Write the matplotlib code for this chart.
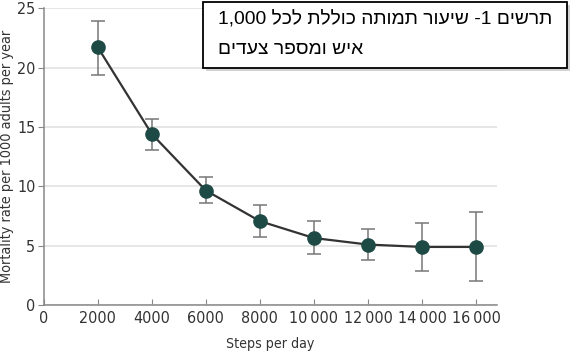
import re
import numpy as np
import matplotlib
matplotlib.use('Agg')
import matplotlib.pyplot as plt
from matplotlib.patches import Rectangle
from matplotlib.ticker import FuncFormatter

steps = [2000, 4000, 6000, 8000, 10000, 12000, 14000, 16000]
rate = [21.7, 14.4, 9.65, 7.07, 5.65, 5.1, 4.9, 4.9]
ci_low = [19.4, 13.1, 8.56, 5.72, 4.3, 3.8, 2.9, 2.0]
ci_high = [23.9, 15.7, 10.8, 8.45, 7.05, 6.45, 6.9, 7.8]

x_ticks = [0, 2000, 4000, 6000, 8000, 10000, 12000, 14000, 16000]
y_ticks = [0, 5, 10, 15, 20, 25]

title_lines = ['תרשים 1- שיעור תמותה כוללת לכל 1,000', 'איש ומספר צעדים']


def visual(s):
    # matplotlib has no bidi support: flip to visual order, keep numbers LTR
    r = s[::-1]
    return re.sub(r'[0-9][0-9,.]*[0-9]|[0-9]', lambda m: m.group(0)[::-1], r)


def fmt(v, pos):
    v = int(v)
    if v >= 10000:
        return '{}\u2009{:03d}'.format(v // 1000, v % 1000)
    return str(v)


plt.rcParams['font.family'] = ['DejaVu Sans']
plt.rcParams['font.stretch'] = 'condensed'

fig = plt.figure(figsize=(5.76, 3.54), dpi=100)
ax = fig.add_axes([0.076, 0.138, 0.787, 0.839])

yerr = [np.array(rate) - np.array(ci_low), np.array(ci_high) - np.array(rate)]
ax.errorbar(steps, rate, yerr=yerr, fmt='none', ecolor='#777777', elinewidth=1.1,
            capsize=5, capthick=1.1, zorder=2)
ax.plot(steps, rate, color='#333333', lw=1.6, zorder=3)
ax.plot(steps, rate, 'o', color='#1e4a45', ms=9.5, zorder=4)

ax.set_xlim(0, 16780)
ax.set_ylim(0, 25)
ax.set_xticks(x_ticks)
ax.set_yticks(y_ticks)
ax.xaxis.set_major_formatter(FuncFormatter(fmt))
ax.grid(axis='y', color='#e2e2e2', lw=1.2)
ax.set_axisbelow(True)
for side in ['top', 'right']:
    ax.spines[side].set_visible(False)
for side in ['left', 'bottom']:
    ax.spines[side].set_color('#888888')
    ax.spines[side].set_linewidth(1.1)
ax.tick_params(axis='x', direction='in', length=4, color='#888888', labelsize=11.5,
               labelcolor='#333333', pad=4)
ax.tick_params(axis='y', direction='out', length=4, color='#888888', labelsize=11.5,
               labelcolor='#333333', pad=2)
ax.set_xlabel('Steps per day', fontsize=10.2, color='#333333', labelpad=8)
ax.set_ylabel('Mortality rate per 1000 adults per year', fontsize=10.4, color='#333333',
              labelpad=2)

# caption box with shadow
W, H = 576, 354
x0, y0, x1, y1 = 203, 2, 567, 68
fig.patches.append(Rectangle(((x0 + 3) / W, 1 - (y1 + 3) / H), (x1 - x0) / W, (y1 - y0) / H,
                             transform=fig.transFigure, facecolor='#b5b5b5', edgecolor='none',
                             alpha=0.6, zorder=5))
fig.patches.append(Rectangle((x0 / W, 1 - y1 / H), (x1 - x0) / W, (y1 - y0) / H,
                             transform=fig.transFigure, facecolor='white', edgecolor='black',
                             lw=1.3, zorder=6))
fig.text(218 / W, 1 - 20 / H, visual(title_lines[0]), family='Liberation Sans',
         stretch='normal', fontsize=13.9, ha='left', va='center', zorder=7)
fig.text(218 / W, 1 - 49 / H, visual(title_lines[1]), family='Liberation Sans',
         stretch='normal', fontsize=13.9, ha='left', va='center', zorder=7)

fig.savefig('out.png', dpi=100)
